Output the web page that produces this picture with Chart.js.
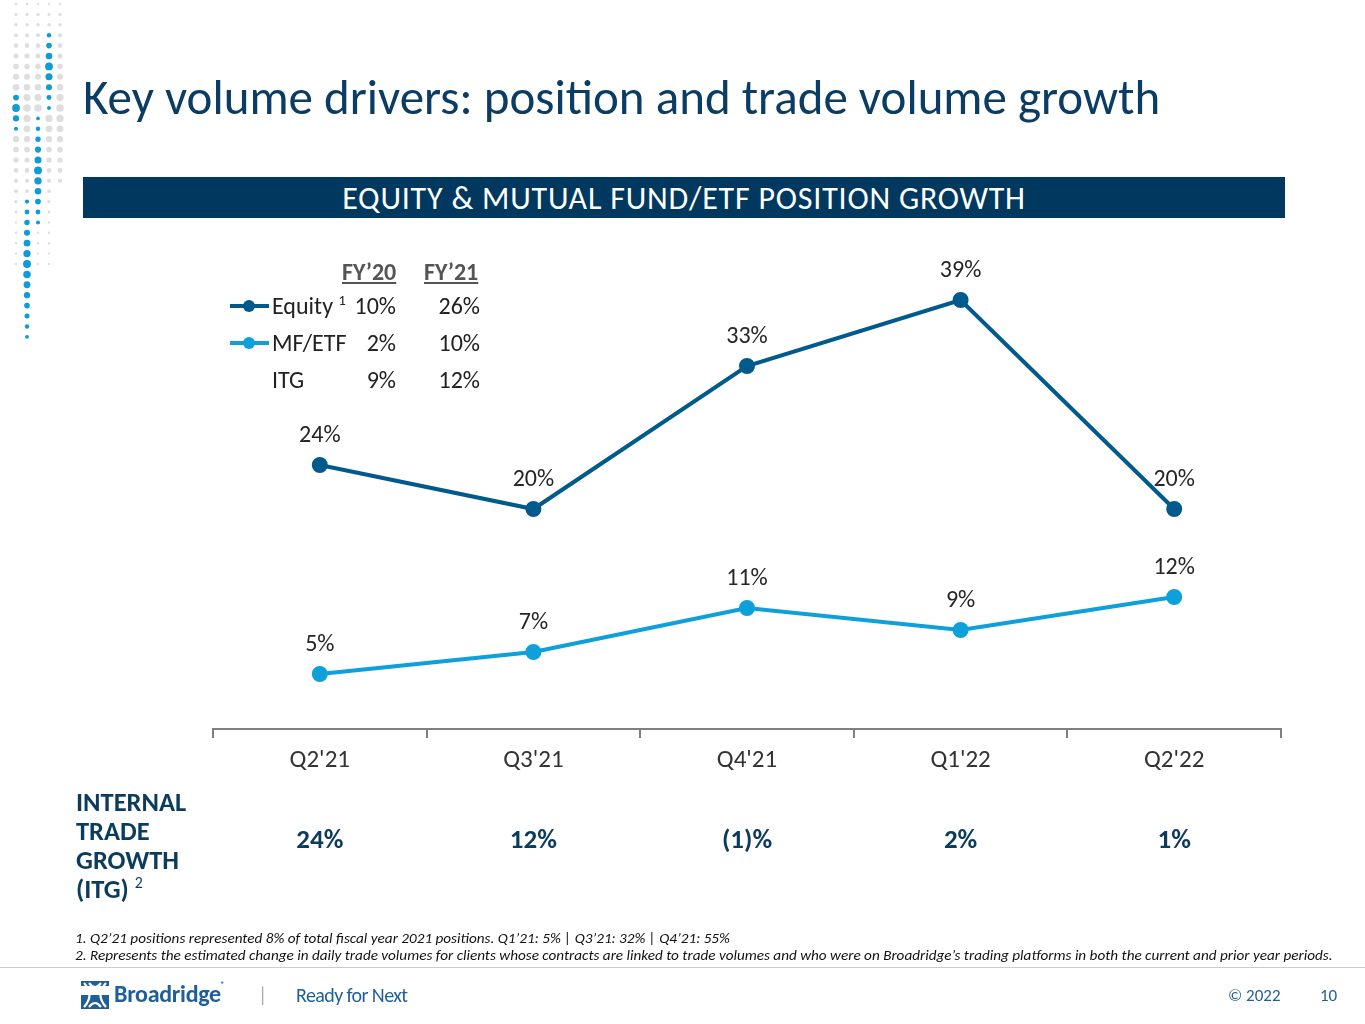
<!DOCTYPE html>
<html>
<head>
<meta charset="utf-8">
<script src="https://cdn.jsdelivr.net/npm/chart.js@4"></script>
<style>
  body { margin: 0; background: #fff; font-family: Carlito, Calibri, Lato, sans-serif; }
  #page { position: relative; width: 1365px; height: 1024px; overflow: hidden; }
  #chart { position: absolute; left: 0; top: 0; }
  .abs { position: absolute; white-space: nowrap; }
  #title { left: 83px; top: 67px; font-size: 49px; color: #0b3c63; }
  #banner { left: 83px; top: 177px; width: 1202px; height: 41px; background: #00385f; color: #fff;
            font-size: 32px; letter-spacing: 0.8px; text-align: center; line-height: 43px; }
  .hdr { font-weight: bold; color: #555; font-size: 24px; text-decoration: underline; }
  .leg { font-size: 24px; color: #222; }
  .itg { font-weight: bold; color: #0b3c5d; font-size: 26.5px; line-height: 29px; }
  .foot { font-style: italic; font-size: 15.2px; color: #111; }
  sup { font-size: 60%; line-height: 0; }
</style>
</head>
<body>
<div id="page">
  <canvas id="deco" class="abs" style="left:0;top:0" width="80" height="350"></canvas>
  <div id="title" class="abs">Key volume drivers: position and trade volume growth</div>
  <div id="banner" class="abs">EQUITY &amp; MUTUAL FUND/ETF POSITION GROWTH</div>
  <canvas id="chart" width="1365" height="1024"></canvas>
  <div id="legend"></div>
  <div class="abs itg" style="left:76px;top:788px">INTERNAL<br>TRADE<br>GROWTH<br>(ITG) <sup style="font-weight:normal">2</sup></div>
  <div class="abs foot" style="left:75px;top:929px">1. Q2’21 positions represented 8% of total fiscal year 2021 positions. Q1’21: 5% | Q3’21: 32% | Q4’21: 55%</div>
  <div class="abs foot" style="left:75px;top:946px">2. Represents the estimated change in daily trade volumes for clients whose contracts are linked to trade volumes and who were on Broadridge’s trading platforms in both the current and prior year periods.</div>
  <div class="abs" style="left:0;top:967px;width:1365px;height:1px;background:#ccc"></div>
  <svg class="abs" style="left:81px;top:981px" width="28" height="28" viewBox="0 0 28 28">
    <rect x="0" y="0" width="28" height="28" fill="#1f5f99"/>
    <rect x="0" y="5" width="28" height="9" fill="#fff"/>
    <path d="M3 2 Q14 14 3 26 M25 2 Q14 14 25 26 M8 2 Q14 10 20 2 M8 26 Q14 18 20 26" stroke="#fff" stroke-width="2.2" fill="none"/>
  </svg>
  <div class="abs" style="left:114px;top:979px;font-size:24px;font-weight:bold;color:#1f5f99;letter-spacing:-0.3px">Broadridge<span style="font-size:8px;vertical-align:top">®</span></div>
  <div class="abs" style="left:258px;top:983px;font-size:20px;color:#aaa">|</div>
  <div class="abs" style="left:296px;top:983px;font-size:20px;color:#1f5f99;letter-spacing:-0.6px">Ready for Next</div>
  <div class="abs" style="left:1228px;top:985px;font-size:17px;color:#1f5f99">© 2022</div>
  <div class="abs" style="left:1320px;top:985px;font-size:17px;color:#1f5f99">10</div>
</div>
<script>
const quarters = ["Q2'21", "Q3'21", "Q4'21", "Q1'22", "Q2'22"];
const equityGrowth = [24, 20, 33, 39, 20];
const mfEtfGrowth = [5, 7, 11, 9, 12];
const itgLabels = ['24%', '12%', '(1)%', '2%', '1%'];
const fyHeaders = ['FY’20', 'FY’21'];
const fyEquity = ['10%', '26%'];
const fyMfEtf = ['2%', '10%'];
const fyItg = ['9%', '12%'];

const EQUITY_COLOR = '#005a8c';
const MF_COLOR = '#0ea0da';
const FONT = 'Carlito, Calibri, Lato, sans-serif';

// legend / FY table
function buildLegend() {
  const box = document.getElementById('legend');
  let html = '';
  html += `<div class="abs hdr" style="left:342px;top:257px">${fyHeaders[0]}</div>`;
  html += `<div class="abs hdr" style="left:424px;top:257px">${fyHeaders[1]}</div>`;
  const rows = [
    { name: 'Equity <sup>1</sup>', color: EQUITY_COLOR, vals: fyEquity, top: 291 },
    { name: 'MF/ETF', color: MF_COLOR, vals: fyMfEtf, top: 328 },
    { name: 'ITG', color: null, vals: fyItg, top: 365 },
  ];
  rows.forEach(r => {
    if (r.color) {
      html += `<div class="abs" style="left:230px;top:${r.top + 13}px;width:39px;height:4px;background:${r.color}"></div>`;
      html += `<div class="abs" style="left:243px;top:${r.top + 9}px;width:12px;height:12px;border-radius:6px;background:${r.color}"></div>`;
    }
    html += `<div class="abs leg" style="left:272px;top:${r.top}px">${r.name}</div>`;
    html += `<div class="abs leg" style="left:330px;width:66px;text-align:right;top:${r.top}px">${r.vals[0]}</div>`;
    html += `<div class="abs leg" style="left:410px;width:70px;text-align:right;top:${r.top}px">${r.vals[1]}</div>`;
  });
  box.innerHTML = html;
}
buildLegend();

// dotted decoration, top-left
function drawDeco() {
  const ctx = document.getElementById('deco').getContext('2d');
  const cols = [16, 27, 38, 49, 60];
  const blue = [[88, 130], [192, 340], [118, 227], [27, 110], [-1, -1]];
  for (let c = 0; c < cols.length; c++) {
    for (let y = 4; y < 345; y += 10.4) {
      const isBlue = y >= blue[c][0] && y <= blue[c][1];
      const mid = (blue[c][0] + blue[c][1]) / 2;
      let r;
      if (isBlue) {
        r = 1.8 + 2.2 * Math.max(0, 1 - Math.abs(y - mid) / ((blue[c][1] - blue[c][0]) / 2 + 1));
        ctx.fillStyle = '#0e9bd6';
      } else {
        if (y > 270 && c !== 1) continue;
        if (c === 4 && y > 185) continue;
        r = 1.2 + 2.6 * Math.max(0, 1 - Math.abs(y - 110) / 110);
        ctx.fillStyle = '#dedede';
      }
      ctx.beginPath();
      ctx.arc(cols[c], y, r, 0, Math.PI * 2);
      ctx.fill();
    }
  }
}
drawDeco();

const pointLabels = {
  id: 'pointLabels',
  afterDatasetsDraw(chart) {
    const ctx = chart.ctx;
    ctx.save();
    ctx.font = '24px ' + FONT;
    ctx.fillStyle = '#262626';
    ctx.textAlign = 'center';
    ctx.textBaseline = 'middle';
    chart.data.datasets.forEach((ds, i) => {
      chart.getDatasetMeta(i).data.forEach((pt, j) => {
        ctx.fillText(ds.data[j] + '%', pt.x, pt.y - 29);
      });
    });
    // ITG row aligned to categories
    ctx.font = 'bold 27px ' + FONT;
    ctx.fillStyle = '#0b3c5d';
    const xs = chart.scales.x;
    itgLabels.forEach((t, j) => {
      ctx.fillText(t, xs.getPixelForValue(j), 841);
    });
    ctx.restore();
  }
};

new Chart(document.getElementById('chart'), {
  type: 'line',
  data: {
    labels: quarters,
    datasets: [
      {
        label: 'Equity',
        data: equityGrowth,
        borderColor: EQUITY_COLOR,
        backgroundColor: EQUITY_COLOR,
        borderWidth: 4,
        pointRadius: 6,
        pointHoverRadius: 6,
        tension: 0,
      },
      {
        label: 'MF/ETF',
        data: mfEtfGrowth,
        borderColor: MF_COLOR,
        backgroundColor: MF_COLOR,
        borderWidth: 4,
        pointRadius: 6,
        pointHoverRadius: 6,
        tension: 0,
      },
    ],
  },
  options: {
    responsive: false,
    animation: false,
    layout: { padding: { left: 213, right: 84, top: 234, bottom: 235 } },
    plugins: { legend: { display: false }, tooltip: { enabled: false } },
    scales: {
      x: {
        offset: true,
        afterFit(scale) { scale.height = 60; },
        border: { color: '#808080', width: 2 },
        grid: { offset: true, drawOnChartArea: false, tickLength: 9, color: '#808080', lineWidth: 2 },
        ticks: { color: '#333', font: { family: FONT, size: 25 }, padding: 8 },
      },
      y: { display: false, min: 0, max: 45 },
    },
  },
  plugins: [pointLabels],
});
</script>
</body>
</html>
